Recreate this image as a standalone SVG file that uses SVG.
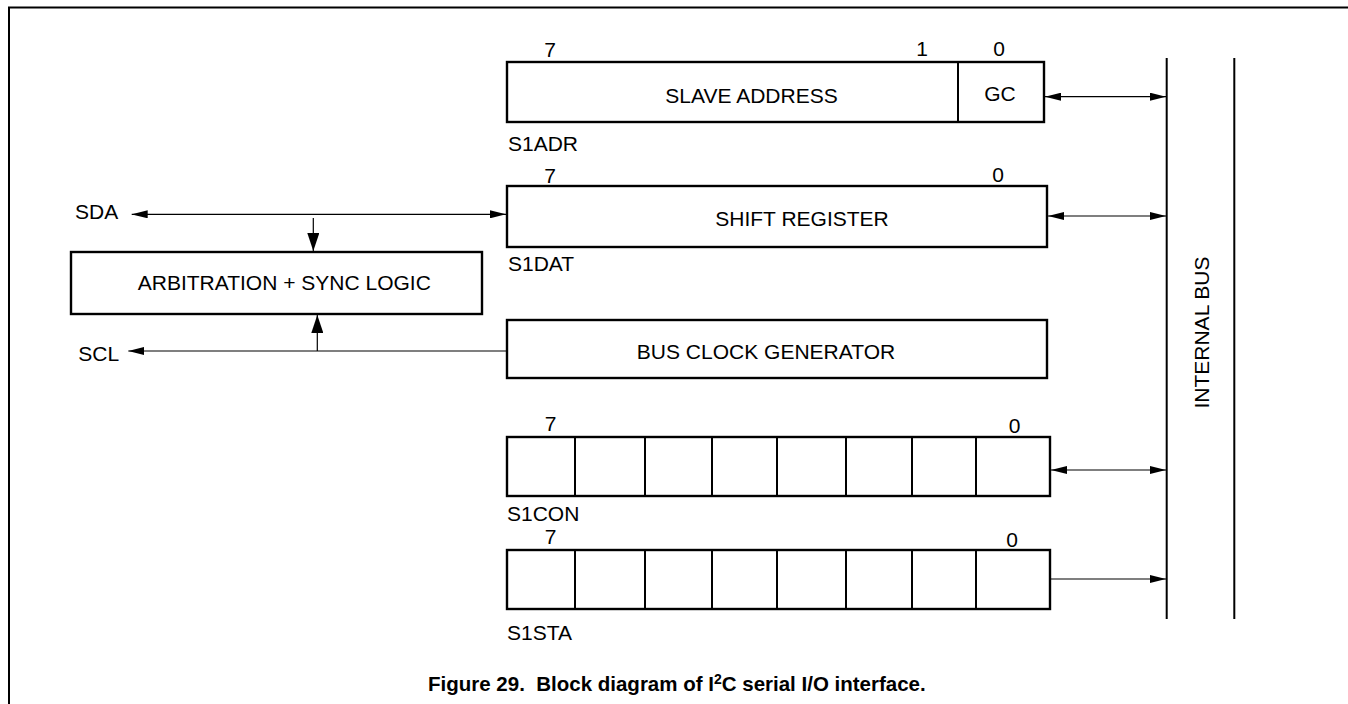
<svg xmlns="http://www.w3.org/2000/svg" width="1348" height="704" viewBox="0 0 1348 704">
<style>
.box{fill:#fff;stroke:#000;stroke-width:2.4}
.div{stroke:#000;stroke-width:2}
.bus{stroke:#000;stroke-width:2;fill:none}
.frame{stroke:#000;stroke-width:2;fill:none}
.con{stroke:#000;stroke-width:1.2;fill:none}
text{font-family:"Liberation Sans",Arial,sans-serif;font-size:21px;fill:#000}
.c{text-anchor:middle}
.cap{font-weight:bold;font-size:20.5px;white-space:pre}
</style>
<defs>
<marker id="ah" viewBox="0 0 16 8" refX="16" refY="4" markerWidth="16" markerHeight="8" orient="auto-start-reverse" markerUnits="userSpaceOnUse"><path d="M0,0 L16,4 L0,8 z" fill="#000"/></marker>
<marker id="av" viewBox="0 0 18 12" refX="18" refY="6" markerWidth="18" markerHeight="12" orient="auto-start-reverse" markerUnits="userSpaceOnUse"><path d="M0,0 L18,6 L0,12 z" fill="#000"/></marker>
</defs>
<path class="frame" d="M9,704 V7.5 H1348"/>
<g id="internal-bus">
<line class="bus" x1="1166.7" y1="58" x2="1166.7" y2="619"/>
<line class="bus" x1="1234.3" y1="58" x2="1234.3" y2="619"/>
<text class="c" transform="translate(1209.2,332.5) rotate(-90)">INTERNAL BUS</text>
</g>
<g id="s1adr">
<rect class="box" x="507" y="62" width="537" height="60"/>
<line class="div" x1="958" y1="62" x2="958" y2="122"/>
<text class="c" x="550" y="56.8">7</text>
<text class="c" x="922" y="55.8">1</text>
<text class="c" x="999" y="55.8">0</text>
<text class="c" x="751.5" y="102.5">SLAVE ADDRESS</text>
<text class="c" x="1000" y="100.8">GC</text>
<text x="508" y="150.8">S1ADR</text>
</g>
<g id="s1dat">
<rect class="box" x="507" y="186" width="540" height="61"/>
<text class="c" x="550" y="182.5">7</text>
<text class="c" x="998" y="181.5">0</text>
<text class="c" x="802" y="225.5">SHIFT REGISTER</text>
<text x="508" y="270.8">S1DAT</text>
</g>
<g id="arbitration">
<rect class="box" x="71" y="252" width="411" height="62"/>
<text class="c" x="284.3" y="290.2">ARBITRATION + SYNC LOGIC</text>
</g>
<g id="bus-clock">
<rect class="box" x="507" y="320" width="540" height="58"/>
<text class="c" x="766" y="359.2">BUS CLOCK GENERATOR</text>
</g>
<g id="s1con">
<rect class="box" x="507" y="437" width="543" height="59"/>
<path class="div" d="M575,437V496M645,437V496M712,437V496M777,437V496M846,437V496M912,437V496M976,437V496"/>
<text class="c" x="550.6" y="430.8">7</text>
<text class="c" x="1014.5" y="432.5">0</text>
<text x="507" y="520.8">S1CON</text>
</g>
<g id="s1sta">
<rect class="box" x="507" y="550" width="543" height="59"/>
<path class="div" d="M575,550V609M645,550V609M712,550V609M777,550V609M846,550V609M912,550V609M976,550V609"/>
<text class="c" x="550.6" y="544.2">7</text>
<text class="c" x="1012" y="546.8">0</text>
<text x="507" y="639.8">S1STA</text>
</g>
<g id="sda">
<text x="75" y="219.2">SDA</text>
</g>
<g id="scl">
<text x="78.3" y="360.8">SCL</text>
</g>
<g id="connectors">
<line class="con" x1="1045" y1="96.7" x2="1166" y2="96.7" marker-start="url(#ah)" marker-end="url(#ah)"/>
<line class="con" x1="1048" y1="216" x2="1166" y2="216" marker-start="url(#ah)" marker-end="url(#ah)"/>
<line class="con" x1="1051" y1="470" x2="1166" y2="470" marker-start="url(#ah)" marker-end="url(#ah)"/>
<line class="con" x1="1051" y1="579" x2="1166" y2="579" marker-end="url(#ah)"/>
<line class="con" x1="131.7" y1="214.3" x2="506" y2="214.3" marker-start="url(#ah)" marker-end="url(#ah)"/>
<line class="con" x1="313.3" y1="218" x2="313.3" y2="251" marker-end="url(#av)"/>
<line class="con" x1="506" y1="351" x2="128.3" y2="351" marker-end="url(#ah)"/>
<line class="con" x1="317.3" y1="351" x2="317.3" y2="315" marker-end="url(#av)"/>
</g>
<text class="cap" x="428" y="690.5">Figure 29.  Block diagram of I<tspan font-size="14" dy="-7">2</tspan><tspan dy="7">C serial I/O interface.</tspan></text>
</svg>
